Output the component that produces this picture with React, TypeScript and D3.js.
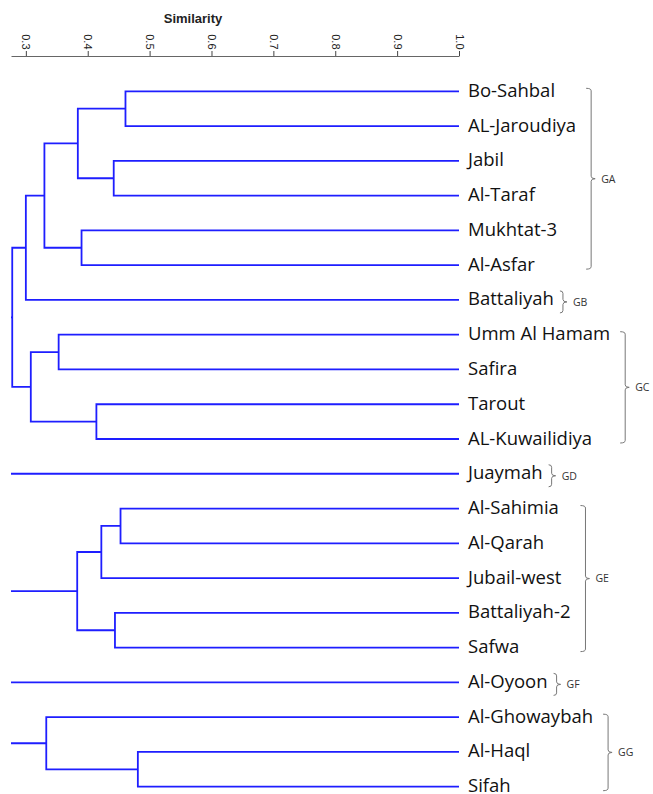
import React, { useEffect, useRef } from 'react';
import * as d3 from 'd3';

// leaf order as it appears top to bottom
const leaves = [
  'Bo-Sahbal', 'AL-Jaroudiya', 'Jabil', 'Al-Taraf', 'Mukhtat-3', 'Al-Asfar',
  'Battaliyah', 'Umm Al Hamam', 'Safira', 'Tarout', 'AL-Kuwailidiya',
  'Juaymah', 'Al-Sahimia', 'Al-Qarah', 'Jubail-west', 'Battaliyah-2', 'Safwa',
  'Al-Oyoon', 'Al-Ghowaybah', 'Al-Haql', 'Sifah',
];

// merges, linkage style: new node id = leaves.length + index
const mergeA = [0, 2, 21, 4, 23, 25, 7, 9, 27, 26, 12, 31, 15, 32, 19, 18];
const mergeB = [1, 3, 22, 5, 24, 6, 8, 10, 28, 29, 13, 14, 16, 33, 20, 35];
const mergeSim = [0.461, 0.442, 0.384, 0.39, 0.33, 0.3, 0.353, 0.414, 0.308, 0.278,
  0.453, 0.422, 0.444, 0.383, 0.481, 0.333];

const axisTicks = [0.3, 0.4, 0.5, 0.6, 0.7, 0.8, 0.9, 1.0];

const groupNames = ['GA', 'GB', 'GC', 'GD', 'GE', 'GF', 'GG'];
const groupFirst = [0, 6, 7, 11, 12, 17, 18];
const groupLast = [5, 6, 10, 11, 16, 17, 20];

const W = 653;
const H = 794;
const BLUE = '#1e1eff';

export default function App() {
  const ref = useRef<SVGSVGElement>(null);

  useEffect(() => {
    const svg = d3.select(ref.current);
    svg.selectAll('*').remove();

    const x = d3.scaleLinear().domain([0.276, 1.0]).range([11, 459]);
    const y = d3.scalePoint<number>().domain(d3.range(leaves.length)).range([91.3, 786.7]);

    // node positions
    const nx: number[] = leaves.map(() => x(1.0));
    const ny: number[] = leaves.map((_, i) => y(i) as number);
    const hasParent: boolean[] = leaves.map(() => false);
    mergeA.forEach((a, i) => {
      const b = mergeB[i];
      nx.push(x(mergeSim[i]));
      ny.push((ny[a] + ny[b]) / 2);
      hasParent[a] = true;
      hasParent[b] = true;
      hasParent.push(false);
    });

    const g = svg.append('g');
    // links
    mergeA.forEach((a, i) => {
      const b = mergeB[i];
      const id = leaves.length + i;
      const px = nx[id];
      const path = d3.path();
      path.moveTo(nx[a], ny[a]);
      path.lineTo(px, ny[a]);
      path.lineTo(px, ny[b]);
      path.lineTo(nx[b], ny[b]);
      g.append('path').attr('d', path.toString())
        .attr('fill', 'none').attr('stroke', BLUE).attr('stroke-width', 1.8);
    });
    // roots get a stem to the axis start
    hasParent.forEach((p, id) => {
      if (p) return;
      g.append('line')
        .attr('x1', x.range()[0]).attr('x2', nx[id])
        .attr('y1', ny[id]).attr('y2', ny[id])
        .attr('stroke', BLUE).attr('stroke-width', 1.8);
    });

    // axis
    const axis = svg.append('g').attr('transform', 'translate(0,56)')
      .call(d3.axisTop(x).tickValues(axisTicks).tickFormat(d3.format('.1f')).tickSize(5).tickSizeOuter(0));
    axis.select('.domain').attr('stroke', '#666');
    axis.selectAll('.tick line').attr('stroke', '#444');
    axis.selectAll('.tick text')
      .attr('transform', 'rotate(90)')
      .attr('x', -6.5).attr('y', 0).attr('dy', null)
      .attr('dominant-baseline', 'central')
      .attr('text-anchor', 'end')
      .attr('fill', '#222')
      .style('font-family', 'Liberation Sans, Arial, sans-serif')
      .style('font-size', '11px');

    svg.append('text').attr('x', 193).attr('y', 23)
      .attr('text-anchor', 'middle')
      .style('font-family', 'Liberation Sans, Arial, sans-serif')
      .style('font-size', '13px').style('font-weight', 'bold').attr('fill', '#222')
      .text('Similarity');

    // leaf labels
    const labels = svg.append('g').selectAll('text').data(leaves).join('text')
      .attr('x', 468)
      .attr('y', (_, i) => (y(i) as number) + 5.5)
      .style('font-family', 'Open Sans, sans-serif')
      .style('font-size', '18.5px')
      .attr('fill', '#111')
      .text(d => d);
    const ends = labels.nodes().map(n => 468 + (n as SVGTextElement).getComputedTextLength());

    // group brackets
    const bg = svg.append('g');
    groupNames.forEach((name, k) => {
      const f = groupFirst[k];
      const l = groupLast[k];
      const single = f === l;
      const maxEnd = d3.max(d3.range(f, l + 1), i => ends[i]) as number;
      const bx = maxEnd + (single ? 9 : 15);
      const top = single ? ny[f] - 9 : ny[f] - 3;
      const bot = single ? ny[l] + 13 : ny[l] + 4;
      const mid = (top + bot) / 2;
      const r = 2.5;
      const hook = single ? 3 : 5;
      const p = d3.path();
      p.moveTo(bx - hook, top);
      p.quadraticCurveTo(bx, top, bx, top + r);
      p.lineTo(bx, mid - r);
      p.quadraticCurveTo(bx, mid, bx + 4, mid);
      p.moveTo(bx + 4, mid);
      p.quadraticCurveTo(bx, mid, bx, mid + r);
      p.lineTo(bx, bot - r);
      p.quadraticCurveTo(bx, bot, bx - hook, bot);
      bg.append('path').attr('d', p.toString())
        .attr('fill', 'none').attr('stroke', '#777').attr('stroke-width', 1);
      bg.append('text').attr('x', bx + 10).attr('y', mid + 3.8)
        .style('font-family', 'Open Sans, sans-serif').style('font-size', '10.5px')
        .attr('fill', '#333').text(name);
    });
  }, []);

  return (
    <svg ref={ref} width={W} height={H}
      style={{ position: 'absolute', left: 0, top: 0, background: '#fff' }} />
  );
}
